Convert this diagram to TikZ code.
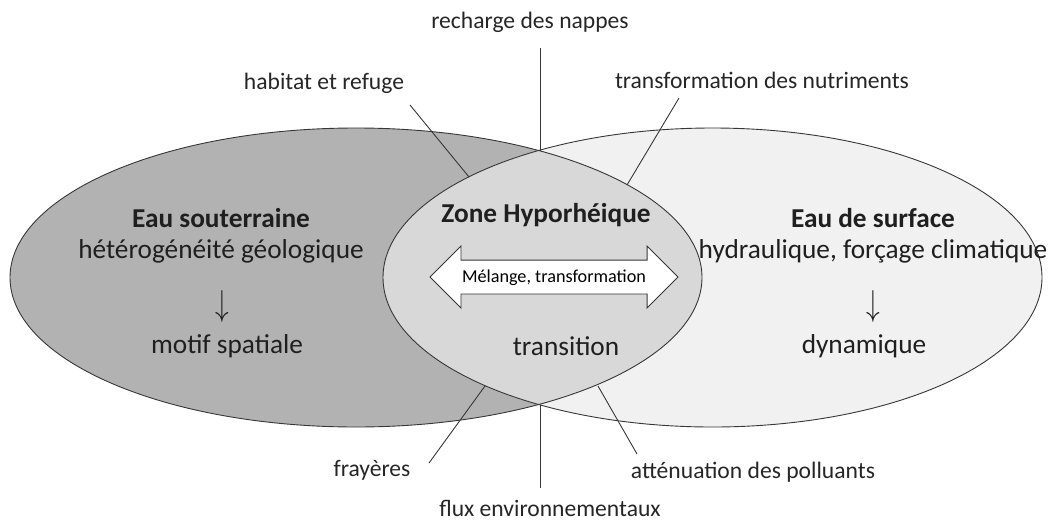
\documentclass[tikz,border=0pt]{standalone}
\usepackage{fontspec}
\setmainfont{Carlito}
\usetikzlibrary{shapes.arrows}
\definecolor{souter}{RGB}{178,178,178}
\definecolor{hypo}{RGB}{216,216,216}
\definecolor{surf}{RGB}{241,241,241}
\definecolor{trait}{RGB}{55,55,55}
\begin{document}
\begin{tikzpicture}[x=1pt, y=-1pt,
    lbl/.style={font=\fontsize{23.6}{27}\selectfont, text=black!85},
    txt/.style={font=\fontsize{27.3}{32}\selectfont, text=black!88},
    titre/.style={txt, font=\fontsize{27.3}{32}\selectfont\bfseries},
    fleche/.style={txt, inner sep=0pt},
    lien/.style={draw=trait, line width=0.9pt}]
    \useasboundingbox (0,0) rectangle (1062,520);
    \fill[souter] (356,277.5) ellipse (346 and 149.5);
    \fill[surf] (712.5,277.5) ellipse (329.5 and 149.5);
    \begin{scope}
        \clip (356,277.5) ellipse (346 and 149.5);
        \fill[hypo] (712.5,277.5) ellipse (329.5 and 149.5);
    \end{scope}
    \draw[trait, line width=0.9pt] (356,277.5) ellipse (346 and 149.5);
    \draw[trait, line width=0.9pt] (712.5,277.5) ellipse (329.5 and 149.5);

    \node [titre] (eso) at (221,218) {Eau souterraine};
    \node [txt] (geol) at (221,251) {hétérogénéité géologique};
    \node [fleche] (fl1) at (222,306) {\scalebox{1.1}[1.45]{$\downarrow$}};
    \node [txt] (motif) at (227,346) {motif spatiale};

    \node [titre] (esu) at (873,218) {Eau de surface};
    \node [txt] (hydro) at (873,251) {hydraulique, forçage climatique};
    \node [fleche] (fl2) at (873,306) {\scalebox{1.1}[1.45]{$\downarrow$}};
    \node [txt] (dyn) at (864,346) {dynamique};

    \node [titre] (zh) at (546,215) {Zone Hyporhéique};
    \node [double arrow, draw=trait, fill=white, line width=0.9pt,
           double arrow head extend=14pt, minimum height=248pt,
           inner xsep=0pt, inner ysep=0pt, text height=21.5pt, text depth=11.5pt,
           font=\fontsize{18.2}{21}\selectfont] (mel) at (554,277) {Mélange, transformation};
    \node [txt] (trans) at (566,346) {transition};

    \node [lbl] (rn) at (530,22) {recharge des nappes};
    \node [lbl] (hr) at (324,83) {habitat et refuge};
    \node [lbl] (tn) at (762,80) {transformation des nutriments};
    \node [lbl] (fr) at (372,470) {frayères};
    \node [lbl] (ap) at (753,472) {atténuation des polluants};
    \node [lbl] (fe) at (550,508) {flux environnementaux};

    \coordinate (haut) at (540,150.5);
    \coordinate (bas) at (540,404.5);
    \coordinate (rn-b) at (540,48);
    \coordinate (fe-b) at (540,488);
    \coordinate (hr-b) at (410,105);
    \coordinate (hr-e) at (469,177);
    \coordinate (tn-b) at (679,98);
    \coordinate (tn-e) at (627,185);
    \coordinate (fr-b) at (429,463);
    \coordinate (fr-e) at (485,386);
    \coordinate (ap-b) at (637,454);
    \coordinate (ap-e) at (598,386);

    \draw[lien] (rn-b) -- (haut);
    \draw[lien] (fe-b) -- (bas);
    \draw[lien] (hr-b) -- (hr-e);
    \draw[lien] (tn-b) -- (tn-e);
    \draw[lien] (fr-b) -- (fr-e);
    \draw[lien] (ap-b) -- (ap-e);
\end{tikzpicture}
\end{document}
